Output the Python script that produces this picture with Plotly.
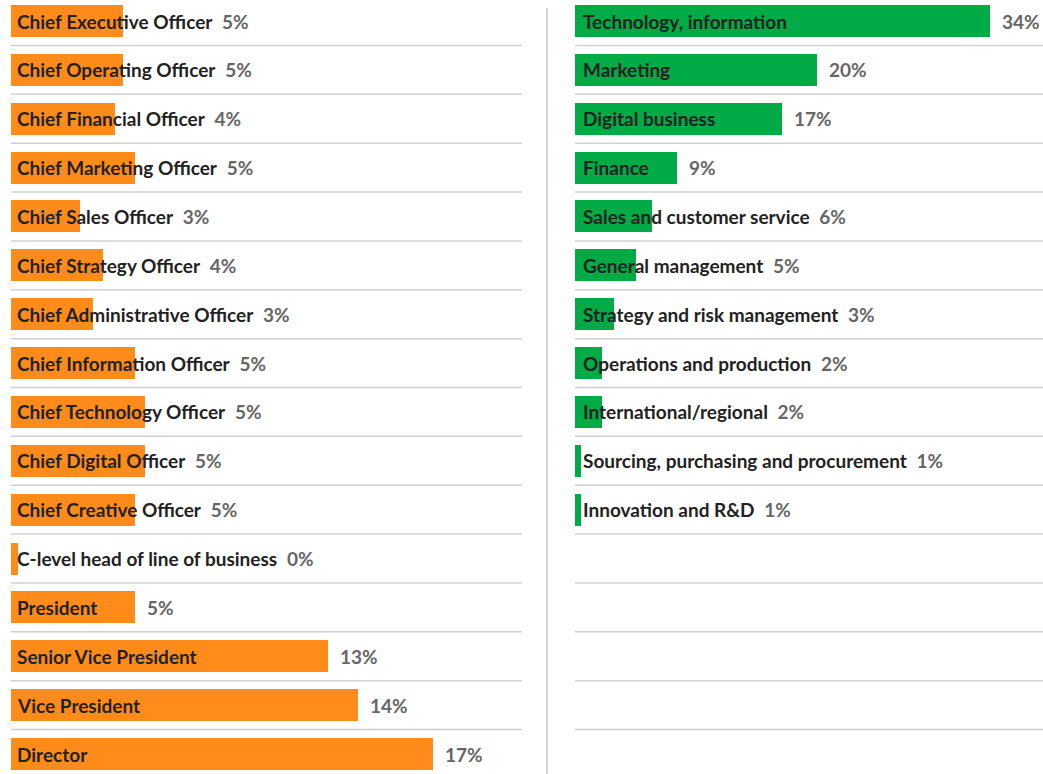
import plotly.graph_objects as go

# left panel: job titles
roles = ["Chief Executive Officer", "Chief Operating Officer", "Chief Financial Officer",
         "Chief Marketing Officer", "Chief Sales Officer", "Chief Strategy Officer",
         "Chief Administrative Officer", "Chief Information Officer", "Chief Technology Officer",
         "Chief Digital Officer", "Chief Creative Officer", "C-level head of line of business",
         "President", "Senior Vice President", "Vice President", "Director"]
role_values = [4.5, 4.5, 4.2, 5.0, 2.8, 3.7, 3.3, 5.0, 5.4, 5.4, 5.0, 0.3, 5.0, 12.8, 14.0, 17.0]
role_labels = ["5%", "5%", "4%", "5%", "3%", "4%", "3%", "5%", "5%", "5%", "5%", "0%",
               "5%", "13%", "14%", "17%"]

# right panel: functions
functions = ["Technology, information", "Marketing", "Digital business", "Finance",
             "Sales and customer service", "General management", "Strategy and risk management",
             "Operations and production", "International/regional",
             "Sourcing, purchasing and procurement", "Innovation and R&D"]
function_values = [34.0, 19.8, 17.0, 8.4, 6.3, 5.0, 3.2, 2.2, 2.2, 0.5, 0.5]
function_labels = ["34%", "20%", "17%", "9%", "6%", "5%", "3%", "2%", "2%", "1%", "1%"]

ORANGE = "#FF8C1A"
GREEN = "#00AB45"
N_ROWS = 16
W, H = 1043, 774
FONT = "Lato"
FSIZE = 19

fig = go.Figure()
fig.add_trace(go.Bar(x=role_values, y=list(range(len(roles))), orientation="h",
                     marker=dict(color=ORANGE, line=dict(width=0)), width=0.655,
                     xaxis="x", yaxis="y", hoverinfo="skip"))
fig.add_trace(go.Bar(x=function_values, y=list(range(len(functions))), orientation="h",
                     marker=dict(color=GREEN, line=dict(width=0)), width=0.655,
                     xaxis="x2", yaxis="y", hoverinfo="skip"))

left_dom = [11 / W, 522 / W]
right_dom = [575 / W, 1.0]
left_range = [0, 511 / 24.8]
right_range = [0, 468 / 12.2]


def add_labels(names, values, labels, xref, xrange, dom, pad):
    px_per_unit = (dom[1] - dom[0]) * W / (xrange[1] - xrange[0])
    for i, (name, v, lab) in enumerate(zip(names, values, labels)):
        text_w = len(name) * 8.5 + pad
        bar_w = v * px_per_unit
        if bar_w > text_w + 4:
            fig.add_annotation(x=0, y=i, xref=xref, yref="y", xanchor="left", xshift=pad,
                               text=f"<b>{name}</b>", showarrow=False,
                               font=dict(family=FONT, size=FSIZE, color="#222"))
            fig.add_annotation(x=v, y=i, xref=xref, yref="y", xanchor="left", xshift=10,
                               text=f"<b>{lab}</b>", showarrow=False,
                               font=dict(family=FONT, size=FSIZE, color="#666"))
        else:
            fig.add_annotation(x=0, y=i, xref=xref, yref="y", xanchor="left", xshift=pad,
                               text=f"<b>{name}</b>&nbsp;&nbsp;<span style='color:#666'><b>{lab}</b></span>",
                               showarrow=False,
                               font=dict(family=FONT, size=FSIZE, color="#222"))


add_labels(roles, role_values, role_labels, "x", left_range, left_dom, 4)
add_labels(functions, function_values, function_labels, "x2", right_range, right_dom, 6)

# row separators
for i in range(N_ROWS - 1):
    for xref in ["x domain", "x2 domain"]:
        fig.add_shape(type="line", xref=xref, yref="y", x0=0, x1=1, y0=i + 0.5, y1=i + 0.5,
                      line=dict(color="#d0d0d0", width=1.5), layer="below")

# vertical divider
fig.add_shape(type="line", xref="paper", yref="paper", x0=547 / W, x1=547 / W,
              y0=0, y1=1 - 8 / H, line=dict(color="#d6d6d6", width=2))

unit = (754 - 21) / (N_ROWS - 1)
fig.update_layout(
    width=W, height=H,
    margin=dict(l=0, r=0, t=0, b=0),
    plot_bgcolor="white", paper_bgcolor="white",
    showlegend=False,
    bargap=0,
    xaxis=dict(domain=left_dom, range=left_range, visible=False, fixedrange=True),
    xaxis2=dict(domain=right_dom, range=right_range, visible=False, fixedrange=True),
    yaxis=dict(range=[N_ROWS - 1 + 20 / unit, -21 / unit], visible=False, fixedrange=True),
    font=dict(family=FONT),
)

fig.write_html("out.html", config={"displayModeBar": False},
               post_script="document.body.style.margin='0';")
